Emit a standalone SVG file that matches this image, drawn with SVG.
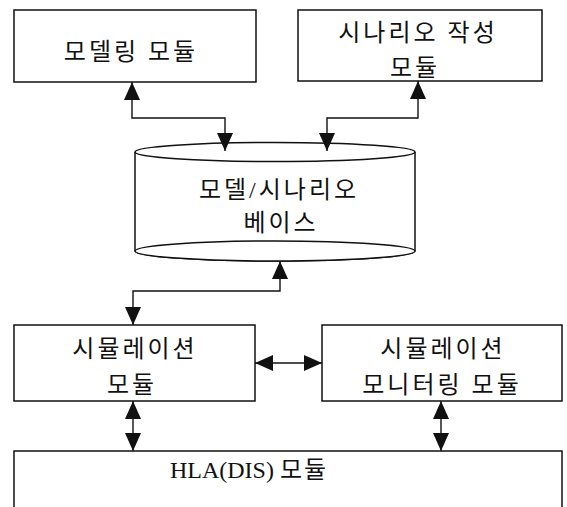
<svg xmlns="http://www.w3.org/2000/svg" width="567" height="507" viewBox="0 0 567 507">
<style>
.box{fill:#fff;stroke:#111;stroke-width:1.5}
.lbl{font-family:"Liberation Serif","Noto Sans CJK KR",serif;font-size:24px;fill:#111;text-anchor:middle;letter-spacing:3px}
.con{fill:none;stroke:#111;stroke-width:1.4;marker-start:url(#ah);marker-end:url(#ah)}
</style>
<defs>
<marker id="ah" markerUnits="userSpaceOnUse" markerWidth="20" markerHeight="18" refX="18" refY="8" orient="auto-start-reverse" overflow="visible">
<path d="M0,0 L18,8 L0,16 z" fill="#111"/>
</marker>
</defs>
<rect width="567" height="507" fill="#fff"/>
<g id="modeling">
<rect class="box" x="14" y="10" width="242" height="72"/>
<text class="lbl" x="131" y="60">모델링 모듈</text>
</g>
<g id="scenario">
<rect class="box" x="298" y="10" width="244" height="71"/>
<text class="lbl" x="418" y="41">시나리오 작성</text>
<text class="lbl" x="415" y="76">모듈</text>
</g>
<g id="base">
<path class="box" d="M135,152 V251 A140,10 0 0 0 415,251 V152"/>
<ellipse class="box" cx="275" cy="152" rx="140" ry="9.5"/>
<ellipse class="box" cx="275" cy="251" rx="140" ry="10"/>
<text class="lbl" x="279" y="198">모델/시나리오</text>
<text class="lbl" x="281" y="231">베이스</text>
</g>
<g id="simulation">
<rect class="box" x="14" y="325" width="241" height="76"/>
<text class="lbl" x="135" y="357">시뮬레이션</text>
<text class="lbl" x="132" y="393">모듈</text>
</g>
<g id="monitoring">
<rect class="box" x="322" y="325" width="240" height="76"/>
<text class="lbl" x="443" y="357">시뮬레이션</text>
<text class="lbl" x="442" y="393">모니터링 모듈</text>
</g>
<g id="hla">
<rect class="box" x="14" y="451" width="548" height="70"/>
<text class="lbl" x="249" y="478" style="letter-spacing:0"><tspan>HLA(DIS) </tspan><tspan style="letter-spacing:2px">모듈</tspan></text>
</g>
<g id="connectors">
<path class="con" d="M132,82 V118 H225 V151"/>
<path class="con" d="M418,81 V118 H327 V151"/>
<path class="con" d="M280,261 V291 H133 V325"/>
<path class="con" d="M255,363 H322"/>
<path class="con" d="M133,401 V451"/>
<path class="con" d="M441,401 V451"/>
</g>
</svg>
